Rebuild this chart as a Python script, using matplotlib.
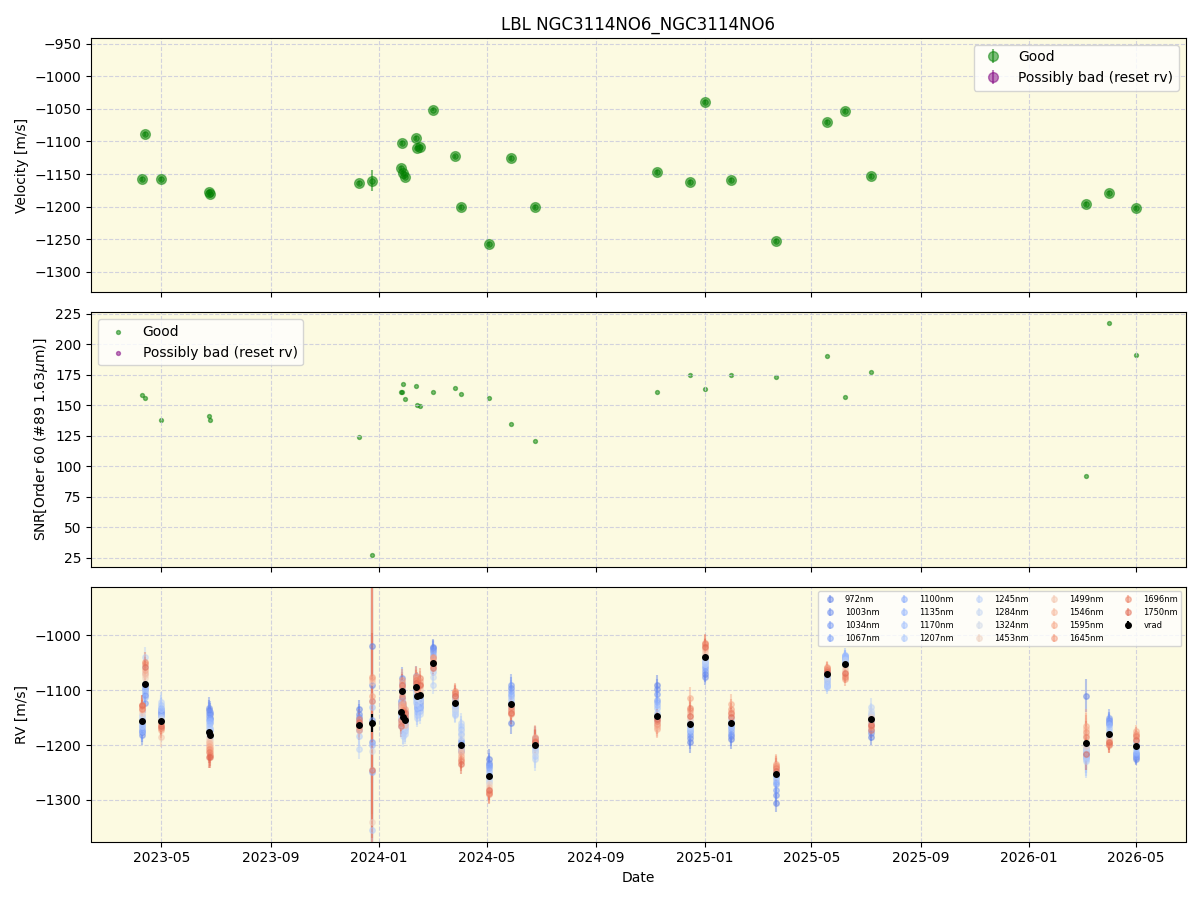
import numpy as np
import pandas as pd
import matplotlib
matplotlib.use('Agg')
import matplotlib.pyplot as plt
import matplotlib.dates as mdates

# epochs
dates = ['2023-04-09', '2023-04-12', '2023-05-01', '2023-06-24', '2023-06-25',
         '2023-12-09', '2023-12-24', '2024-01-26', '2024-01-27', '2024-01-28',
         '2024-01-30', '2024-02-11', '2024-02-13', '2024-02-16', '2024-03-01',
         '2024-03-26', '2024-04-02', '2024-05-04', '2024-05-28', '2024-06-24',
         '2024-11-08', '2024-12-16', '2025-01-01', '2025-01-31', '2025-03-22',
         '2025-05-19', '2025-06-08', '2025-07-07', '2026-03-06', '2026-04-01',
         '2026-05-01']
vrad = [-1157, -1088, -1157, -1177, -1181, -1163, -1160, -1140, -1102, -1148,
        -1154, -1094, -1110, -1108, -1051, -1123, -1200, -1257, -1126, -1200,
        -1147, -1162, -1040, -1159, -1252, -1070, -1053, -1153, -1196, -1179,
        -1202]
vrad_err = [3, 3, 3, 3, 3, 3, 16, 3, 3, 3, 3, 3, 3, 3, 3, 3, 3, 3, 3, 3,
            3, 3, 3, 3, 3, 3, 3, 3, 3, 3, 3]
snr = [158, 156, 138, 141, 138, 124, 27, 161, 161, 167, 155, 166, 150, 149, 161,
       164, 159, 156, 135, 121, 161, 175, 163, 175, 173, 190, 157, 177, 92, 217,
       191]

waves = [972, 1003, 1034, 1067, 1100, 1135, 1170, 1207, 1245, 1284, 1324,
         1453, 1499, 1546, 1595, 1645, 1696, 1750]
# per-band rv minus vrad, one row per epoch
band_offsets = [
    [-20, -25, -15, -10, -5, -18, 5, -8, 10, 12, 5, 15, 20, 25, 30, 28, 22, 30],
    [-20, -10, -35, -5, -15, -25, 0, -10, 48, 30, 20, 10, 15, 20, 25, 35, 40, 30],
    [15, 20, 10, 18, 25, 12, 30, 22, 35, 8, 5, 0, -28, -10, -15, -5, -12, -8],
    [40, 45, 35, 30, 25, 20, 15, 10, 5, 0, -5, -10, -15, -20, -25, -30, -35, -45],
    [38, 30, 42, 28, 22, 25, 12, 8, 6, -2, -6, -12, -18, -22, -26, -32, -38, -40],
    [28, 20, 15, 10, 5, 0, -10, -20, -45, -10, -5, 0, 5, 0, -5, -10, 10, 5],
    [140, 70, -35, 5, -90, -40, 30, -195, 40, -85, -50, -180, 75, 80, 50, 85, 40, -85],
    [20, 15, 10, 5, 0, -5, -10, -15, -25, -20, -10, 0, 5, 10, 15, -20, -15, -25],
    [15, 25, 5, 10, -10, 0, -20, -15, -30, -25, 5, 10, 15, -5, 8, 20, -10, 12],
    [15, 10, 20, 5, -5, -10, -15, -30, -35, -20, -5, 5, 10, 15, 20, 25, 12, 8],
    [10, 5, 15, 0, -5, -15, -20, -10, -25, -15, 0, 5, 10, -10, 15, 20, 12, 5],
    [20, 10, 15, 5, -5, -15, -20, -25, -30, -10, 0, 5, 10, 15, 20, 18, 12, 8],
    [-15, -20, -5, -10, -25, -30, -35, -20, -40, -5, 0, 5, 10, 15, 20, 10, 25, 15],
    [-10, -15, -20, -25, -5, -30, -10, -20, -35, -10, 0, 5, 10, 15, 25, 20, 30, 18],
    [30, 28, 25, 20, 15, 10, -5, -15, -40, -25, -10, 0, -5, 5, 10, 12, 0, -8],
    [10, 5, 15, 0, -5, -10, -15, -20, -22, -15, -10, 5, 10, 15, 20, 22, 18, 12],
    [-10, -5, 5, 0, 10, 20, 30, 35, 40, 25, 15, -5, -10, -15, -20, -25, -30, -35],
    [32, 25, 20, 15, 18, 10, 5, 0, -5, -10, -8, -15, -20, -25, -28, -30, -33, -25],
    [-34, 30, 36, 25, 20, 15, 10, 5, 0, -5, -8, -10, -12, -15, -18, -10, -5, -15],
    [10, 8, 5, 12, 0, -5, -10, -20, -25, -15, -10, 0, 5, 10, 15, 12, 8, 5],
    [57, 50, 40, 30, 25, 20, 15, 5, 0, -5, -10, -15, -20, -18, -23, -15, -10, -5],
    [-33, -25, -20, -15, -10, -5, 0, -10, -5, 5, 0, 10, 15, 20, 47, 25, 30, 15],
    [-30, -35, -25, -20, -15, -10, -5, -8, -12, -5, 0, 5, 10, 15, 20, 25, 27, 18],
    [-30, -25, -20, -15, -10, -5, -8, 0, 5, 10, 5, 12, 15, 20, 34, 25, 18, 10],
    [-53, -40, -30, -20, -15, -10, -5, -5, 0, 5, 8, 10, 12, 15, 17, 14, 10, 5],
    [5, 0, -5, -10, -15, -20, -22, -25, -20, -10, -5, 5, 8, 10, 12, 10, 6, 3],
    [5, 0, 10, 15, 12, 18, 15, 10, 8, 5, 0, -5, -10, -15, -20, -27, -22, -15],
    [-32, -25, -20, -10, -5, 0, 5, 10, 23, 15, 10, 5, 0, -5, -10, -15, -20, -10],
    [86, -20, -25, -15, -10, -20, -30, -34, -25, -15, -10, -5, 15, 25, 31, 20, 10, -20],
    [20, 25, 29, 22, 18, 15, 10, 5, 0, -5, -8, -10, -12, -15, -18, -20, -21, -15],
    [-23, -20, -15, -18, -12, -10, -5, 0, 5, 8, 10, 12, 15, 20, 27, 22, 18, 12],
]
band_err = [18, 18, 18, 20, 20, 18, 250, 20, 20, 20, 20, 18, 18, 18, 15, 15, 18,
            18, 20, 22, 18, 20, 15, 18, 18, 12, 12, 15, 30, 15, 12]

t = pd.to_datetime(dates)
vrad = np.array(vrad, dtype=float)
offs = np.array(band_offsets, dtype=float)
bg = '#fcfae1'

fig, (ax1, ax2, ax3) = plt.subplots(3, 1, figsize=(12, 9), sharex=True)
fig.subplots_adjust(left=0.076, right=0.988, top=0.958, bottom=0.065, hspace=0.08)

# velocity panel
ax1.errorbar(t, vrad, yerr=vrad_err, fmt='o', color='green', alpha=0.5, ms=7, label='Good')
ax1.plot(t, vrad, 'o', color='green', alpha=0.5, ms=4)
ax1.errorbar([t[0]], [np.nan], yerr=[1], fmt='o', color='purple', alpha=0.5, ms=7,
             label='Possibly bad (reset rv)')
ax1.set_ylabel('Velocity [m/s]')
ax1.set_ylim(-1331, -941)
ax1.legend(loc='upper right')
ax1.set_title('LBL NGC3114NO6_NGC3114NO6')

# snr panel
ax2.scatter(t, snr, s=8, color='green', alpha=0.5, label='Good')
ax2.scatter([t[0]], [np.nan], s=8, color='purple', alpha=0.5, label='Possibly bad (reset rv)')
ax2.set_ylabel('SNR[Order 60 (#89 1.63$\\mu$m)]')
ax2.set_ylim(17.6, 226)
ax2.legend(loc='upper left')

# per-band rv panel
cmap = plt.get_cmap('coolwarm')
for i, w in enumerate(waves):
    c = cmap(0.12 + 0.74 * (w - waves[0]) / (waves[-1] - waves[0]))
    ax3.errorbar(t, vrad + offs[:, i], yerr=band_err, fmt='o', color=c, alpha=0.45,
                 ms=4, label=f'{w}nm')
ax3.errorbar(t, vrad, yerr=vrad_err, fmt='o', color='black', ms=4, label='vrad')
ax3.set_ylabel('RV [m/s]')
ax3.set_xlabel('Date')
ax3.set_ylim(-1376, -912)
ax3.legend(loc='upper right', ncol=5, fontsize=6)

for ax in (ax1, ax2, ax3):
    ax.set_facecolor(bg)
    ax.grid(True, ls='--', color='#c8c8dc', alpha=0.8)

ax3.set_xlim(pd.Timestamp('2023-02-11'), pd.Timestamp('2026-06-26'))
ax3.xaxis.set_major_locator(mdates.MonthLocator(bymonth=[1, 5, 9]))
ax3.xaxis.set_major_formatter(mdates.DateFormatter('%Y-%m'))

fig.savefig('out.png', dpi=100)
